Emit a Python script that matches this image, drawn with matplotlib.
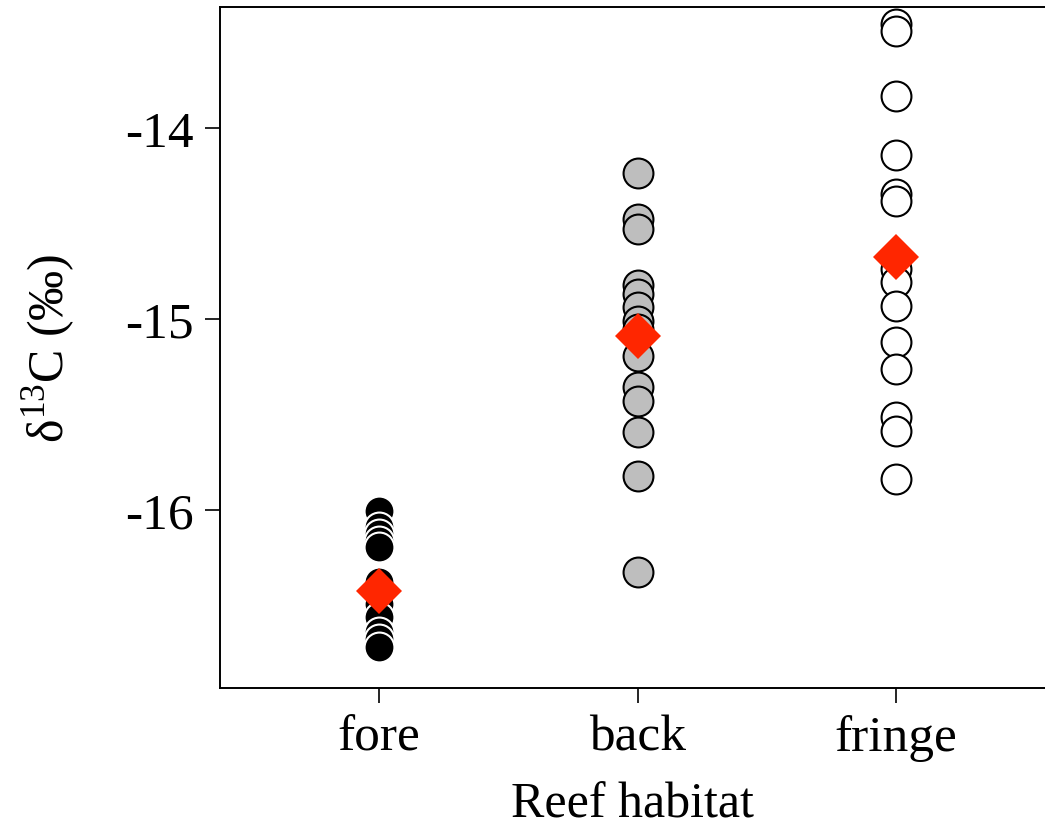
import matplotlib.pyplot as plt

plt.rcParams["font.family"] = ["Liberation Serif", "DejaVu Serif"]
plt.rcParams["mathtext.fontset"] = "custom"
plt.rcParams["mathtext.rm"] = "Liberation Serif"

habitats = ["fore", "back", "fringe"]

fore = [-16.005, -16.089, -16.126, -16.162, -16.194, -16.377, -16.440,
        -16.492, -16.560, -16.639, -16.675, -16.717]
back = [-14.236, -14.476, -14.529, -14.822, -14.869, -14.937, -15.010,
        -15.052, -15.194, -15.356, -15.429, -15.592, -15.822, -16.325]
fringe = [-13.455, -13.492, -13.832, -14.141, -14.346, -14.382, -14.738,
          -14.806, -14.932, -15.120, -15.262, -15.513, -15.586, -15.838]
means = [-16.424, -15.089, -14.675]

fills = ["black", "#bebebe", "white"]
edges = ["white", "black", "black"]


def main() -> None:
    fig = plt.figure(figsize=(10.45, 8.29), dpi=100)
    ax = fig.add_axes([0.2105, 0.1689, 0.7895, 0.8214])

    for i, vals in enumerate([fore, back, fringe]):
        ax.plot([i + 1] * len(vals), vals, "o", ms=21.5, mfc=fills[i],
                mec=edges[i], mew=1.5, linestyle="none", zorder=2)
    ax.plot([1, 2, 3], means, "D", ms=23, color="#ff2600", mew=0,
            linestyle="none", zorder=3)

    ax.set_xlim(0.385, 3.576)
    ax.set_ylim(-16.932, -13.366)
    ax.set_xticks([1, 2, 3])
    ax.set_xticklabels(habitats)
    ax.set_yticks([-16, -15, -14])
    ax.set_yticklabels(["-16", "-15", "-14"])

    ax.spines["right"].set_visible(False)
    for s in ["left", "bottom", "top"]:
        ax.spines[s].set_linewidth(1.4)
    ax.tick_params(direction="out", length=11, width=1.2, labelsize=37,
                   pad=8)
    ax.set_xlabel("Reef habitat", fontsize=36, labelpad=14)
    ax.set_ylabel("δ$^{13}$C (‰)", fontsize=36, labelpad=34)

    fig.savefig("out.png", dpi=100)


if __name__ == "__main__":
    main()
